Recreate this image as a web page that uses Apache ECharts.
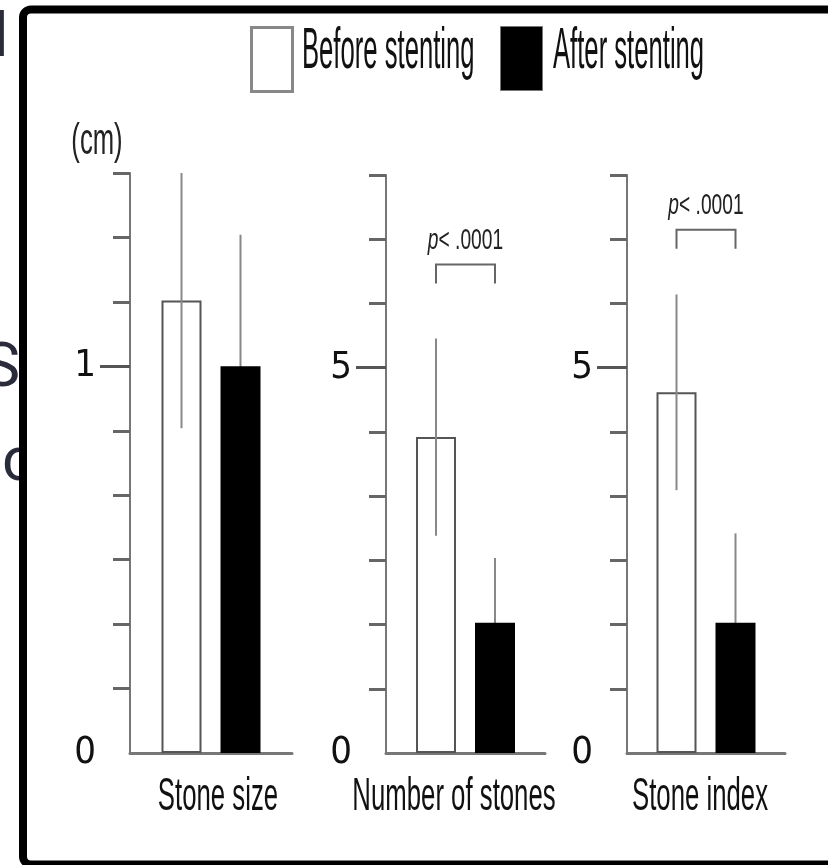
<!DOCTYPE html>
<html>
<head>
<meta charset="utf-8">
<script src="https://cdn.jsdelivr.net/npm/echarts@6/dist/echarts.min.js"></script>
<style>
  html, body { margin: 0; padding: 0; background: #fff; }
  #chart { width: 828px; height: 865px; }
</style>
</head>
<body>
<div id="chart"></div>
<script>
  // values (mean and SD per measure)
  const categories = ['Stone size', 'Number of stones', 'Stone index']
  const seriesNames = ['Before stenting', 'After stenting']
  const beforeMean = [1.17, 4.1, 4.68]
  const beforeSD = [0.33, 1.28, 1.27]
  const afterMean = [1.0, 1.69, 1.69]
  const afterSD = [0.34, 0.84, 1.16]
  const axisMax = [1.5, 7.5, 7.5]
  const tickStep = [1 / 6, 5 / 6, 5 / 6]
  const majorTick = [1, 5, 5]
  const pLabels = ['', '{it|p}< .0001', '{it|p}< .0001']
  const bracketY = [null, 6.34, 6.79]

  // layout
  const grids = [
    { left: 130, top: 173, width: 162, height: 580, outerBoundsMode: 'none' },
    { left: 386, top: 175, width: 159, height: 578, outerBoundsMode: 'none' },
    { left: 627, top: 175, width: 158, height: 578, outerBoundsMode: 'none' }
  ]
  const labelX = [218, 454, 700]
  const BAR_W = 40
  const BAR_GAP = 19
  const OFF = (BAR_W + BAR_GAP) / 2
  const NARROW = "'Liberation Sans Narrow','DejaVu Sans Condensed','Arial Narrow','Liberation Sans',sans-serif"
  const SANS = "'Liberation Sans', Arial, sans-serif"

  const chart = echarts.init(document.getElementById('chart'), null, { renderer: 'canvas' })

  const errRender = (side) => (params, api) => {
    const m = api.value(1)
    const s = api.value(2)
    const x = api.coord([api.value(0), m])[0] + side * OFF
    return {
      type: 'line',
      shape: { x1: x, y1: api.coord([0, m + s])[1], x2: x, y2: api.coord([0, m - s])[1] },
      style: { stroke: '#888', lineWidth: 2 }
    }
  }

  const bracketRender = (params, api) => {
    const p = api.coord([api.value(0), api.value(1)])
    const label = pLabels[api.value(2)]
    return {
      type: 'group',
      children: [
        {
          type: 'polyline',
          shape: { points: [[p[0] - OFF, p[1] + 19], [p[0] - OFF, p[1]], [p[0] + OFF, p[1]], [p[0] + OFF, p[1] + 19]] },
          style: { stroke: '#666', lineWidth: 2, fill: null }
        },
        {
          type: 'text',
          x: p[0],
          y: p[1] - 24,
          scaleX: 0.64,
          style: {
            text: label,
            fontSize: 30,
            fontFamily: SANS,
            fill: '#222',
            align: 'center',
            verticalAlign: 'middle',
            rich: { it: { fontStyle: 'italic', fontSize: 30, fontFamily: SANS, fill: '#222' } }
          }
        }
      ]
    }
  }

  const xAxes = []
  const yAxes = []
  const series = []

  categories.forEach((cat, i) => {
    const minors = []
    for (let k = 1; k * tickStep[i] <= axisMax[i] + 1e-9; k++) minors.push(k * tickStep[i])

    xAxes.push({
      type: 'category',
      gridIndex: i,
      data: [cat],
      axisLine: { show: true, lineStyle: { color: '#777', width: 3 } },
      axisTick: { show: false },
      axisLabel: { show: false }
    })
    yAxes.push({
      type: 'value',
      gridIndex: i,
      position: 'left',
      min: 0,
      max: axisMax[i],
      interval: tickStep[i],
      axisLine: { show: true, lineStyle: { color: '#777', width: 2 } },
      axisTick: { show: true, length: 17, customValues: minors, lineStyle: { color: '#666', width: 3 } },
      axisLabel: { show: false },
      splitLine: { show: false }
    })
    yAxes.push({
      type: 'value',
      gridIndex: i,
      position: 'left',
      offset: 0,
      min: 0,
      max: axisMax[i],
      interval: tickStep[i],
      axisLine: { show: false },
      axisTick: { show: true, length: 30, customValues: [majorTick[i]], lineStyle: { color: '#555', width: 3 } },
      axisLabel: {
        show: true,
        customValues: [0, majorTick[i]],
        margin: 34,
        fontSize: 38,
        fontFamily: NARROW,
        color: '#111'
      },
      splitLine: { show: false }
    })

    series.push({
      name: seriesNames[0],
      type: 'bar',
      xAxisIndex: i,
      yAxisIndex: 2 * i,
      data: [beforeMean[i]],
      barWidth: BAR_W,
      barGap: (BAR_GAP / BAR_W * 100) + '%',
      itemStyle: { color: '#fff', borderColor: '#555', borderWidth: 2 },
      z: 2
    })
    series.push({
      name: seriesNames[1],
      type: 'bar',
      xAxisIndex: i,
      yAxisIndex: 2 * i,
      data: [afterMean[i]],
      barWidth: BAR_W,
      itemStyle: { color: '#000' },
      z: 2
    })
    series.push({
      type: 'custom',
      xAxisIndex: i,
      yAxisIndex: 2 * i,
      data: [[0, beforeMean[i], beforeSD[i]]],
      encode: { x: 0, y: 1 },
      renderItem: errRender(-1),
      z: 3,
      silent: true
    })
    series.push({
      type: 'custom',
      xAxisIndex: i,
      yAxisIndex: 2 * i,
      data: [[0, afterMean[i], afterSD[i]]],
      encode: { x: 0, y: 1 },
      renderItem: errRender(1),
      z: 1,
      silent: true
    })
    if (bracketY[i] !== null) {
      series.push({
        type: 'custom',
        xAxisIndex: i,
        yAxisIndex: 2 * i,
        data: [[0, bracketY[i], i]],
        encode: { x: 0, y: 1 },
        renderItem: bracketRender,
        z: 3,
        silent: true
      })
    }
  })

  const graphic = [
    // remnants of the page the figure was cut from
    { type: 'text', x: 1, y: 40, z: -20, style: { text: 'l', fontSize: 62, fontFamily: 'Roboto', fill: '#2b2c3b', align: 'center', verticalAlign: 'middle' } },
    { type: 'text', x: 20, y: 370, z: -20, style: { text: 'S', fontSize: 62, fontFamily: 'Roboto', fill: '#2b2c3b', align: 'right', verticalAlign: 'middle' } },
    { type: 'text', x: 2, y: 464, z: -20, style: { text: 'c', fontSize: 62, fontFamily: 'Roboto', fill: '#2b2c3b', align: 'left', verticalAlign: 'middle' } },
    // frame
    { type: 'rect', z: -10, shape: { x: 23, y: 9.5, width: 900, height: 855, r: 8 }, style: { fill: '#fff', stroke: '#000', lineWidth: 8 } },
    // unit
    { type: 'text', x: 97, y: 142, z: 5, scaleX: 0.57, style: { text: '(cm)', fontSize: 45, fontFamily: SANS, fill: '#222', align: 'center', verticalAlign: 'middle' } },
    // legend labels
    { type: 'text', x: 302, y: 52, z: 5, scaleX: 0.45, style: { text: seriesNames[0], fontSize: 57, fontFamily: SANS, fill: '#111', align: 'left', verticalAlign: 'middle' } },
    { type: 'text', x: 553, y: 52, z: 5, scaleX: 0.45, style: { text: seriesNames[1], fontSize: 57, fontFamily: SANS, fill: '#111', align: 'left', verticalAlign: 'middle' } }
  ]
  categories.forEach((cat, i) => {
    graphic.push({
      type: 'text', x: labelX[i], y: 797, z: 5, scaleX: 0.56,
      style: { text: cat, fontSize: 46, fontFamily: SANS, fill: '#111', align: 'center', verticalAlign: 'middle' }
    })
  })

  const option = {
    backgroundColor: '#fff',
    animation: false,
    legend: [
      {
        data: [seriesNames[0]], left: 250, top: 26, padding: 0, itemWidth: 41, itemHeight: 64, icon: 'rect',
        selectedMode: false, formatter: () => '',
        itemStyle: { color: '#fff', borderColor: '#888', borderWidth: 3 }
      },
      {
        data: [seriesNames[1]], left: 500, top: 26, padding: 0, itemWidth: 42, itemHeight: 64, icon: 'rect',
        selectedMode: false, formatter: () => '',
        itemStyle: { color: '#000', borderColor: '#777', borderWidth: 1 }
      }
    ],
    grid: grids,
    xAxis: xAxes,
    yAxis: yAxes,
    series: series,
    graphic: graphic
  }

  chart.setOption(option)
</script>
</body>
</html>
